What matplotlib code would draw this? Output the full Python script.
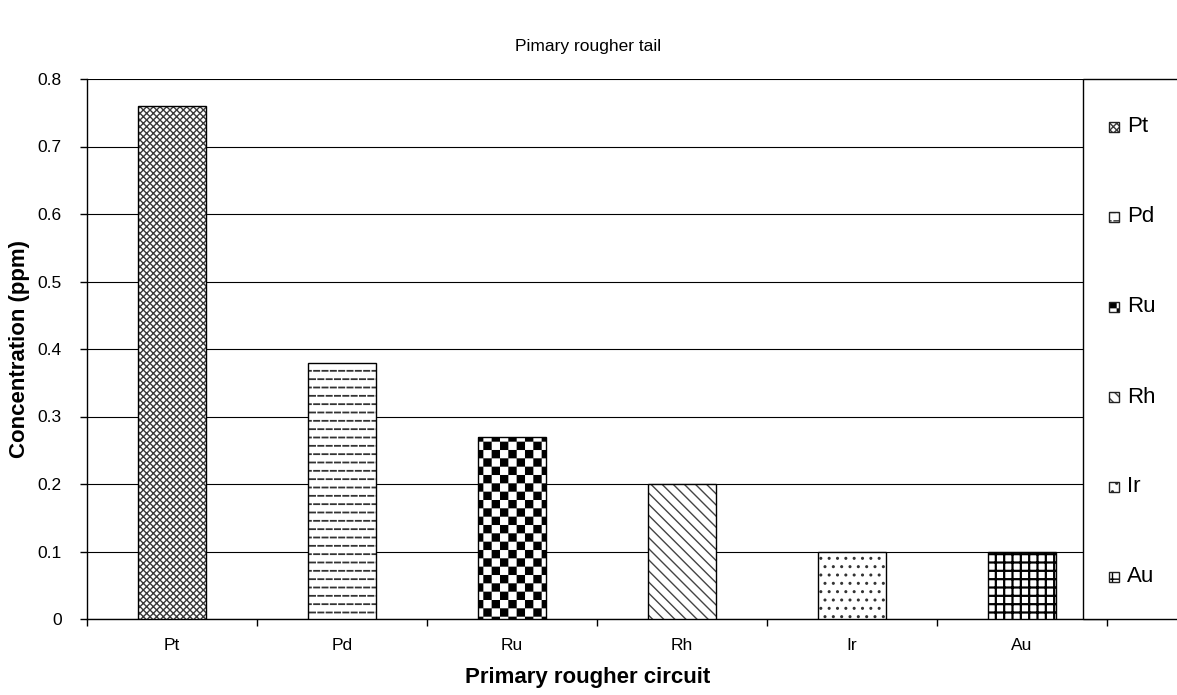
import warnings
warnings.filterwarnings('ignore')
import numpy as np
import matplotlib
matplotlib.use('Agg')
import matplotlib.pyplot as plt
from matplotlib import hatch as mhatch
from matplotlib.path import Path
from matplotlib.patches import Rectangle

# ---------------- data ----------------
categories = ['Pt', 'Pd', 'Ru', 'Rh', 'Ir', 'Au']
values = [0.76, 0.38, 0.27, 0.20, 0.10, 0.10]
yticks = [0, 0.1, 0.2, 0.3, 0.4, 0.5, 0.6, 0.7, 0.8]
ytick_labels = ['0', '0.1', '0.2', '0.3', '0.4', '0.5', '0.6', '0.7', '0.8']
title = 'Pimary rougher tail'
xlabel = 'Primary rougher circuit'
ylabel = 'Concentration (ppm)'

# ---------------- custom hatches ----------------
class DashHatch(mhatch.HatchPatternBase):
    def __init__(self, hatch, density):
        n = int(hatch.count('_') * density)
        self.segs = []
        if n:
            L = 0.62
            for i in range(n):
                y = (i + 0.5) / n
                off = 0.5 if i % 2 else 0.0
                for j in range(n):
                    x0 = (j + off + 0.19) / n
                    x1 = x0 + L / n
                    if x1 <= 1.0:
                        self.segs.append((x0, x1, y))
                    elif x0 >= 1.0:
                        self.segs.append((x0 - 1, x1 - 1, y))
                    else:
                        self.segs.append((x0, 1.0, y))
                        self.segs.append((0.0, x1 - 1, y))
        self.num_vertices = 2 * len(self.segs)

    def set_vertices_and_codes(self, vertices, codes):
        for k, (x0, x1, y) in enumerate(self.segs):
            vertices[2 * k] = (x0, y)
            vertices[2 * k + 1] = (x1, y)
            codes[2 * k] = Path.MOVETO
            codes[2 * k + 1] = Path.LINETO


class CheckerHatch(mhatch.HatchPatternBase):
    def __init__(self, hatch, density):
        self.n = int(hatch.count('#') * density)
        self.cells = ([(i, j) for i in range(self.n) for j in range(self.n)
                       if (i + j) % 2 == 0] if self.n else [])
        self.num_vertices = 5 * len(self.cells)

    def set_vertices_and_codes(self, vertices, codes):
        s = 1.0 / self.n
        m = 0.08 * s
        for k, (i, j) in enumerate(self.cells):
            x, y = j * s + m, i * s + m
            w = s - 2 * m
            vertices[5 * k:5 * k + 5] = [(x, y), (x + w, y), (x + w, y + w),
                                         (x, y + w), (x, y)]
            codes[5 * k:5 * k + 5] = [Path.MOVETO, Path.LINETO, Path.LINETO,
                                      Path.LINETO, Path.CLOSEPOLY]


mhatch._hatch_types.append(DashHatch)
mhatch._hatch_types.append(CheckerHatch)

hatches = ['xxxxx', '__', '##', '\\\\\\', '..', '++']
hatch_colors = ['#3a3a3a', '#333333', '#000000', '#444444', '#333333', '#000000']
hatch_lw = [1.0, 1.3, 1.0, 1.0, 1.0, 1.6]

plt.rcParams['font.family'] = ['Liberation Sans', 'DejaVu Sans']

W, H = 1177, 695
fig = plt.figure(figsize=(W / 100, H / 100), dpi=100)
ax = fig.add_axes([87 / W, 1 - 619 / H, (1107 - 87) / W, (619 - 79) / H])

x = np.arange(len(categories))
has_hlw = hasattr(matplotlib.patches.Patch, 'set_hatch_linewidth')
for i, (xi, v) in enumerate(zip(x, values)):
    with plt.rc_context({'hatch.linewidth': hatch_lw[i]}):
        b = ax.bar(xi, v, width=0.405, color='white', edgecolor=hatch_colors[i],
                   linewidth=0, hatch=hatches[i], zorder=3)
    if has_hlw:
        for p in b:
            p.set_hatch_linewidth(hatch_lw[i])
ax.bar(x, values, width=0.405, fill=False, edgecolor='black', linewidth=1.0, zorder=4)

TICK_FS = 12.5
ax.set_xlim(-0.5, len(categories) - 0.5)
ax.set_ylim(0, 0.8)
ax.set_yticks(yticks)
ax.set_yticklabels(ytick_labels, fontsize=TICK_FS)
ax.set_xticks(x)
ax.set_xticklabels(categories, fontsize=TICK_FS)
ax.set_xticks(np.arange(-0.5, len(categories), 1.0), minor=True)
ax.tick_params(axis='x', which='major', length=0, pad=14)
ax.tick_params(axis='x', which='minor', length=5, width=1, direction='out')
ax.tick_params(axis='y', which='major', length=5, width=1, direction='out', pad=13)
ax.yaxis.grid(True, color='black', linewidth=0.8, zorder=0)
ax.set_axisbelow(True)
for s in ['top', 'right']:
    ax.spines[s].set_visible(False)
ax.spines['left'].set_linewidth(1.0)
ax.spines['bottom'].set_linewidth(1.0)

fig.text(588 / W, 1 - 677 / H, xlabel, fontsize=16, fontweight='bold',
         ha='center', va='center')
fig.text(20 / W, 1 - 349 / H, ylabel, rotation=90, fontsize=16,
         fontweight='bold', ha='center', va='center')
fig.text(588 / W, 1 - 47 / H, title, fontsize=12.5, ha='center', va='center')

# legend box
fig.patches.append(Rectangle((1083 / W, 1 - 619 / H), (W + 10 - 1083) / W,
                             (619 - 79) / H, transform=fig.transFigure,
                             facecolor='white', edgecolor='black', linewidth=1.0,
                             zorder=10))
for i, cat in enumerate(categories):
    yc = 127 + 90 * i
    sz = 10
    with plt.rc_context({'hatch.linewidth': min(hatch_lw[i], 1.0)}):
        r = Rectangle((1109 / W, 1 - (yc + sz / 2) / H), sz / W, sz / H,
                      transform=fig.transFigure, facecolor='white',
                      edgecolor=hatch_colors[i], hatch=hatches[i], linewidth=0,
                      zorder=11)
    if has_hlw:
        r.set_hatch_linewidth(min(hatch_lw[i], 1.0))
    fig.patches.append(r)
    fig.patches.append(Rectangle((1109 / W, 1 - (yc + sz / 2) / H), sz / W, sz / H,
                                 transform=fig.transFigure, fill=False,
                                 edgecolor='#222222', linewidth=1.0, zorder=12))
    fig.text(1127 / W, 1 - yc / H, cat, fontsize=16, ha='left', va='center',
             zorder=13)

fig.savefig('out.png', dpi=100)
